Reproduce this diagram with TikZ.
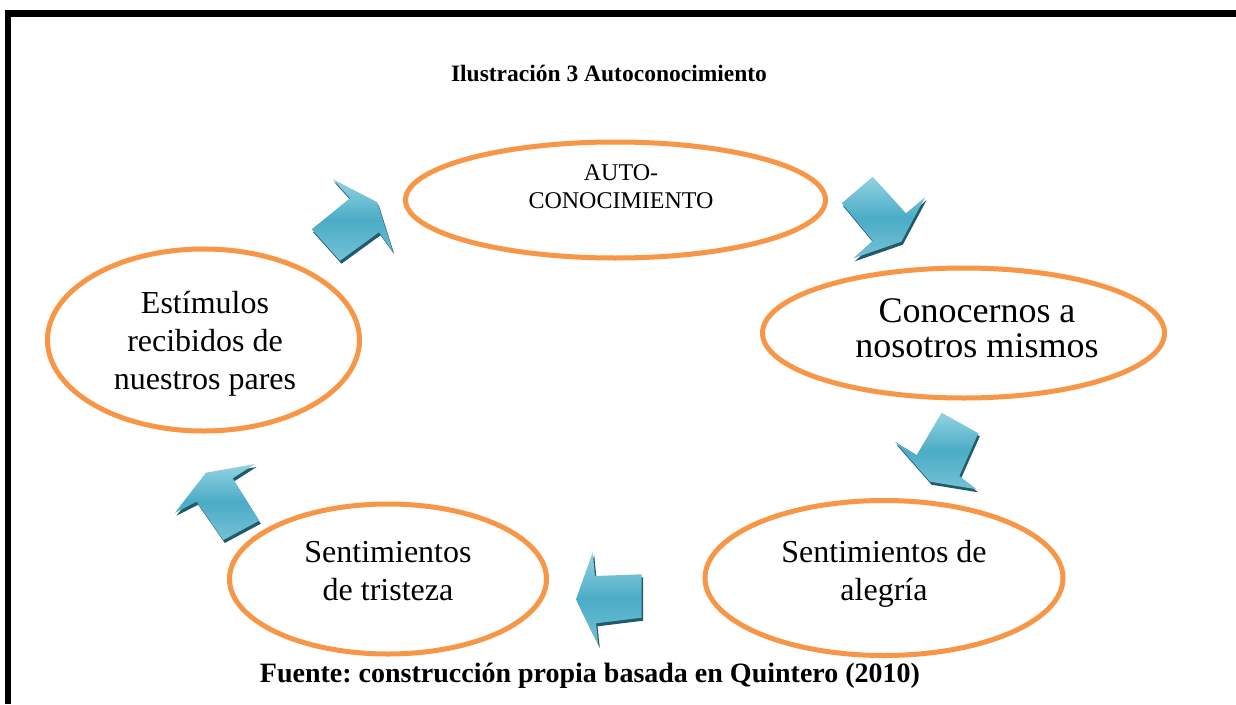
\documentclass[tikz,border=0pt]{standalone}
\usepackage{fontspec}
\setmainfont{Liberation Serif}
\usetikzlibrary{shapes.geometric}
\definecolor{ringc}{HTML}{F79646}
\definecolor{arrowmid}{HTML}{4BACC6}
\definecolor{arrowlight}{HTML}{93D2E3}
\definecolor{arrowlow}{HTML}{74C1D6}
\definecolor{arrowshadow}{HTML}{215B6A}
\newcommand{\mylines}[1]{\begin{tabular}[t]{@{}c@{}}#1\end{tabular}}
\frenchspacing
\begin{document}
\begin{tikzpicture}[x=1pt,y=-1pt,
  ring/.style={ellipse, draw=ringc, line width=5pt, inner sep=0pt},
  lbl/.style={anchor=base, inner sep=0pt},
  blockarrow/.style={top color=arrowlight, bottom color=arrowlow, middle color=arrowmid},
  arrowdrop/.style={fill=arrowshadow}]
\useasboundingbox (0,0) rectangle (1236,704);
\fill[white] (0,0) rectangle (1236,704);
% frame
\fill[black] (5,10) rectangle (1236,17);
\fill[black] (5,10) rectangle (11,704);
% title
\node[lbl, font=\fontsize{23.5}{27}\selectfont\bfseries] (title) at (609,81) {Ilustración 3 Autoconocimiento};
% ellipses
\node[ring, minimum width=420pt, minimum height=116pt] (auto) at (615.5,200) {};
\node[ring, minimum width=402pt, minimum height=130pt] (conoc) at (963.5,333) {};
\node[ring, minimum width=312pt, minimum height=182pt] (estim) at (203.5,340) {};
\node[ring, minimum width=317pt, minimum height=150pt] (trist) at (388,579) {};
\node[ring, minimum width=358pt, minimum height=155pt] (aleg) at (884,578) {};
% texts
\node[lbl, font=\fontsize{24}{28}\selectfont] (tauto) at (621,180) {\mylines{AUTO-\\CONOCIMIENTO}};
\node[lbl, font=\fontsize{36}{35}\selectfont] (tconoc) at (977,322) {\mylines{Conocernos a\\nosotros mismos}};
\node[lbl, font=\fontsize{32}{38}\selectfont] (testim) at (205,313) {\mylines{Estímulos\\recibidos de\\nuestros pares}};
\node[lbl, font=\fontsize{32}{38}\selectfont] (ttrist) at (388,562) {\mylines{Sentimientos\\de tristeza}};
\node[lbl, font=\fontsize{32}{38}\selectfont] (taleg) at (884,562) {\mylines{Sentimientos de\\alegría}};
% block arrows
\foreach \pts in {
  {(311.7,229.3) -- (350,198.3) -- (332.7,179) -- (377.3,202.3) -- (392.7,251) -- (379,232.3) -- (340,260.7)},
  {(841.7,203.3) -- (872.7,176.7) -- (906,213.3) -- (925,197.3) -- (901.3,241.7) -- (853.3,258.3) -- (872.7,240.7)},
  {(941.7,412.7) -- (978.3,433.3) -- (959.3,476) -- (976.7,489.3) -- (930,481.7) -- (895,441.7) -- (916.7,455)},
  {(641.7,574.3) -- (641.7,617.7) -- (596,623.3) -- (598.3,645) -- (576,599.3) -- (592.7,552.3) -- (595,576)},
  {(259.3,520.7) -- (223.3,540) -- (196.7,501.7) -- (175,512.7) -- (206,472.7) -- (255,464) -- (232.7,478.3)}
}{
  \fill[arrowdrop, shift={(1.5,3)}] \pts -- cycle;
  \shade[blockarrow] \pts -- cycle;
}
% footer
\node[lbl, font=\fontsize{28}{32}\selectfont\bfseries] (footer) at (590,682) {Fuente: construcción propia basada en Quintero (2010)};
\end{tikzpicture}
\end{document}
